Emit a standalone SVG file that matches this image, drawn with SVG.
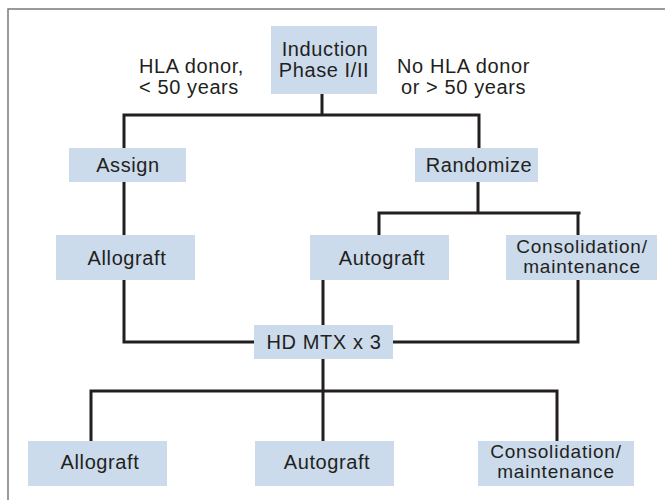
<svg xmlns="http://www.w3.org/2000/svg" width="665" height="500" viewBox="0 0 665 500">
<style>
.box{fill:#cbdbec}
.t{font-family:"Liberation Sans",Arial,sans-serif;font-size:20px;letter-spacing:0.6px;fill:#231f20;text-anchor:middle}
.s{font-size:19px;letter-spacing:0.8px}
.c{fill:none;stroke:#231f20;stroke-width:3;stroke-linecap:square}
.frame{fill:none;stroke:#7a7a7a;stroke-width:1.5}
</style>
<rect width="665" height="500" fill="#ffffff"/>
<path class="frame" d="M8,500 V9 H665"/>
<g id="connectors">
<path class="c" d="M322,94 V115 M124,115 H479 M124,115 V148 M479,115 V148"/>
<path class="c" d="M124,182 V235"/>
<path class="c" d="M478,182 V213 M379,213 H579 M379,213 V235 M578,213 V235"/>
<path class="c" d="M124,280 V342 H254 M323,280 V325 M578,280 V342 H393"/>
<path class="c" d="M323,359 V441 M91,391 H557 M91,391 V441 M557,391 V441"/>
</g>
<g id="label-hla">
<text class="t" x="191.5" y="73">HLA donor,</text>
<text class="t" x="189" y="94">&lt; 50 years</text>
</g>
<g id="label-nohla">
<text class="t" x="463.5" y="73">No HLA donor</text>
<text class="t" x="463.5" y="94">or &gt; 50 years</text>
</g>
<g id="induction">
<rect class="box" x="271" y="26" width="106" height="68"/>
<text class="t" x="325" y="56">Induction</text>
<text class="t" x="324" y="77">Phase I/II</text>
</g>
<g id="assign">
<rect class="box" x="69" y="148" width="117" height="34"/>
<text class="t" x="128" y="172">Assign</text>
</g>
<g id="randomize">
<rect class="box" x="415" y="148" width="123" height="34"/>
<text class="t" x="479" y="172">Randomize</text>
</g>
<g id="allograft1">
<rect class="box" x="56" y="235" width="139" height="45"/>
<text class="t" x="127" y="265">Allograft</text>
</g>
<g id="autograft1">
<rect class="box" x="310" y="235" width="139" height="45"/>
<text class="t" x="382" y="265">Autograft</text>
</g>
<g id="consolidation1">
<rect class="box" x="506" y="235" width="151" height="45"/>
<text class="t s" x="582" y="253">Consolidation/</text>
<text class="t s" x="582" y="273">maintenance</text>
</g>
<g id="hdmtx">
<rect class="box" x="254" y="325" width="139" height="34"/>
<text class="t" x="324" y="349">HD MTX x 3</text>
</g>
<g id="allograft2">
<rect class="box" x="28" y="441" width="139" height="45"/>
<text class="t" x="100" y="469">Allograft</text>
</g>
<g id="autograft2">
<rect class="box" x="255" y="441" width="139" height="45"/>
<text class="t" x="327" y="469">Autograft</text>
</g>
<g id="consolidation2">
<rect class="box" x="478" y="441" width="156" height="45"/>
<text class="t s" x="556" y="458">Consolidation/</text>
<text class="t s" x="556" y="478">maintenance</text>
</g>
</svg>
